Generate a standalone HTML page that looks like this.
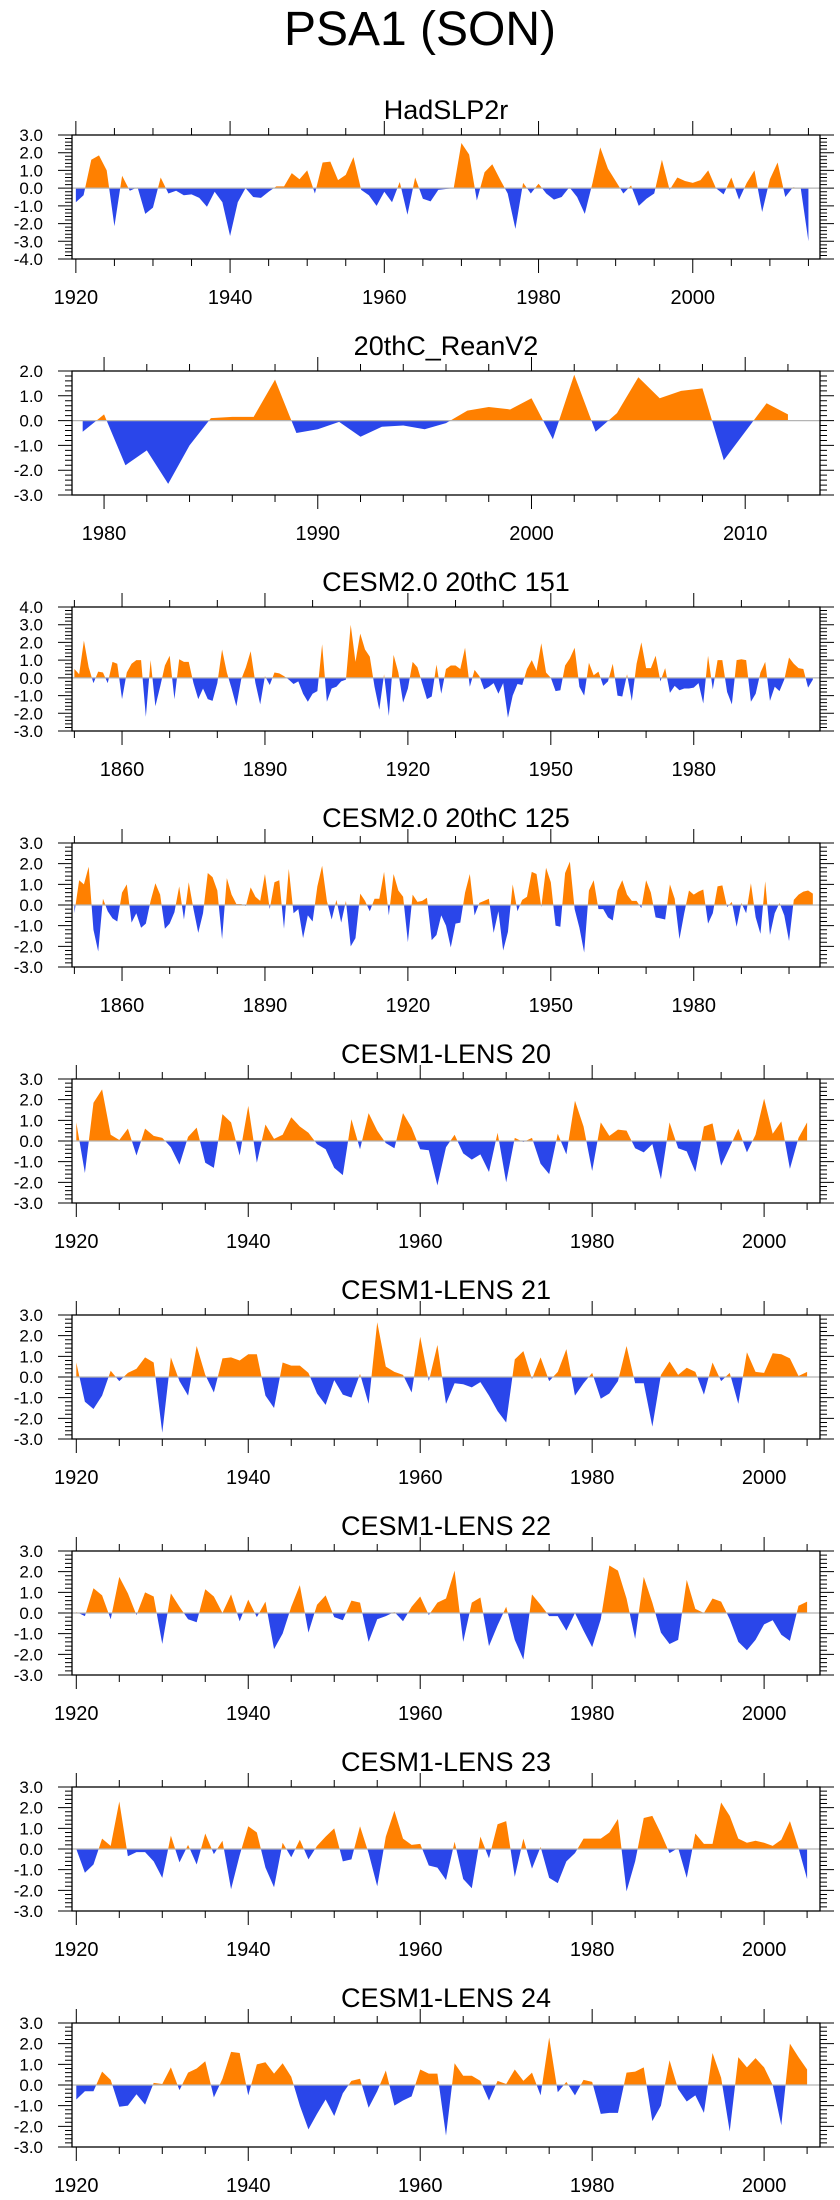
<!DOCTYPE html>
<html><head><meta charset="utf-8">
<style>
html,body{margin:0;padding:0;background:#fff;}
svg{display:block;font-family:"Liberation Sans",Arial,sans-serif;}
</style></head>
<body>
<svg id="chart" width="840" height="2200" viewBox="0 0 840 2200" xmlns="http://www.w3.org/2000/svg">
<text x="420" y="45" font-size="48" text-anchor="middle" fill="#000">PSA1 (SON)</text>
</svg>
<script>
const titles = ["HadSLP2r","20thC_ReanV2","CESM2.0 20thC 151","CESM2.0 20thC 125","CESM1-LENS 20","CESM1-LENS 21","CESM1-LENS 22","CESM1-LENS 23","CESM1-LENS 24"];
const startYears = [1920,1979,1850,1850,1920,1920,1920,1920,1920];
const yMins = [-4,-3,-3,-3,-3,-3,-3,-3,-3];
const yMaxs = [3,2,4,3,3,3,3,3,3];
const majorSteps = [20,10,30,30,20,20,20,20,20];
const minorSteps = [5,2,10,10,5,5,5,5,5];
const majorStarts = [1920,1980,1860,1860,1920,1920,1920,1920,1920];

const s1 = [-0.8,-0.4,1.6,1.85,1.0,-2.15,0.7,-0.15,0.05,-1.45,-1.1,0.6,-0.3,-0.15,-0.4,-0.35,-0.55,-1.05,-0.2,-0.8,-2.7,-0.8,0.0,-0.5,-0.55,-0.2,0.1,0.1,0.85,0.5,1.0,-0.3,1.45,1.5,0.45,0.75,1.75,-0.1,-0.4,-1.0,-0.2,-0.8,0.35,-1.5,0.6,-0.6,-0.75,-0.1,-0.05,0.0,2.55,1.9,-0.7,0.9,1.35,0.5,-0.3,-2.3,0.3,-0.3,0.25,-0.3,-0.65,-0.5,0.05,-0.5,-1.45,0.3,2.3,1.1,0.4,-0.3,0.15,-1.0,-0.6,-0.3,1.6,-0.1,0.6,0.4,0.3,0.45,1.0,0.0,-0.35,0.6,-0.65,0.3,1.0,-1.35,0.5,1.45,-0.5,0.05,0.0,-3.0];
const s2 = [-0.45,0.25,-1.8,-1.2,-2.55,-1.0,0.1,0.15,0.15,1.65,-0.5,-0.35,-0.05,-0.65,-0.25,-0.2,-0.35,-0.1,0.4,0.55,0.45,0.9,-0.75,1.85,-0.45,0.3,1.75,0.9,1.2,1.3,-1.6,-0.45,0.7,0.25];
const s3 = [0.5,0.2,2.1,0.6,-0.3,0.35,0.3,-0.3,0.9,0.8,-1.2,0.3,0.8,1.0,1.0,-2.2,1.0,-1.6,-0.5,0.7,1.25,-1.2,1.05,0.9,0.9,-0.3,-1.2,-0.6,-1.2,-1.3,-0.3,1.6,0.3,-0.6,-1.6,-0.1,0.6,1.5,-0.3,-1.5,0.1,-0.4,0.3,0.25,0.1,-0.1,-0.35,-0.2,-0.9,-1.35,-0.9,-0.75,1.9,-1.35,-0.6,-0.5,-0.2,-0.1,3.0,0.9,2.5,1.6,1.2,-0.5,-1.8,0.2,-2.15,1.3,0.3,-1.4,-0.6,0.9,0.6,-0.3,-1.2,-1.05,0.75,-0.9,0.5,0.7,0.7,0.5,1.7,-0.5,0.45,0.1,-0.65,-0.5,-0.3,-0.9,-0.3,-2.25,-1.0,-0.35,-0.4,0.5,1.0,0.4,1.95,0.3,0.0,-0.75,-0.7,0.7,1.1,1.7,-0.5,-1.0,0.85,0.15,0.35,-0.45,-0.2,0.8,-1.0,-1.05,0.2,-1.3,0.8,2.0,0.55,0.55,1.25,-0.2,0.55,-0.85,-0.45,-0.7,-0.6,-0.6,-0.55,-0.3,-1.45,1.25,-0.65,1.0,1.0,-0.8,-1.5,1.0,1.05,1.0,-1.35,-0.9,0.3,0.9,-1.3,-0.5,-0.75,-0.1,1.15,0.8,0.55,0.5,-0.55,-0.1];
const s4 = [-0.4,1.2,1.0,1.85,-1.2,-2.25,0.3,-0.3,-0.65,-0.8,0.6,1.0,-0.85,-0.4,-1.1,-0.9,0.2,1.05,0.5,-1.15,-0.9,-0.35,0.9,-0.7,1.1,-0.2,-1.35,-0.4,1.55,1.35,0.7,-1.65,1.3,0.5,0.05,0.05,-0.05,0.85,0.4,0.2,1.5,-0.2,1.1,1.2,-1.15,1.75,-0.4,-0.2,-1.6,-0.5,-0.8,0.9,1.9,0.2,-0.7,0.25,-0.85,0.2,-2.0,-1.6,0.55,0.2,-0.3,0.3,0.3,1.6,-0.5,1.5,0.7,0.4,-1.8,0.5,0.15,0.2,0.35,-1.7,-1.45,-0.5,-1.0,-2.05,-0.9,-0.85,0.6,1.5,-0.5,0.1,0.2,0.3,-1.35,-0.3,-2.2,-1.3,1.0,-0.3,0.25,0.4,1.6,1.5,-0.1,1.8,1.1,-1.0,-1.05,1.55,2.1,-0.2,-1.1,-2.3,0.7,1.2,-0.2,-0.2,-0.6,-0.75,0.7,1.2,0.5,0.2,0.2,-0.15,1.2,0.6,-0.6,-0.65,-0.7,1.0,0.3,-1.65,-0.4,0.7,0.5,0.65,0.75,-0.9,-0.4,0.9,0.95,-0.1,0.15,-1.05,0.1,-0.4,1.05,-0.6,-1.4,1.15,-1.45,-0.4,0.1,-0.5,-1.75,0.25,0.5,0.65,0.7,0.55];
const s5 = [0.9,-1.55,1.85,2.5,0.3,0.05,0.6,-0.7,0.6,0.25,0.15,-0.3,-1.15,0.2,0.65,-1.05,-1.3,1.3,0.9,-0.7,1.7,-1.05,0.8,0.1,0.3,1.15,0.7,0.4,-0.15,-0.4,-1.3,-1.65,1.05,-0.4,1.35,0.5,-0.1,-0.35,1.35,0.65,-0.4,-0.45,-2.15,-0.3,0.3,-0.6,-0.9,-0.65,-1.5,0.4,-2.0,0.15,-0.05,0.15,-1.1,-1.6,0.35,-0.65,1.95,0.7,-1.45,0.9,0.25,0.55,0.5,-0.35,-0.55,-0.15,-1.85,0.9,-0.35,-0.5,-1.5,0.7,0.85,-1.2,-0.3,0.6,-0.55,0.3,2.05,0.35,0.95,-1.35,0.15,0.9];
const s6 = [0.7,-1.2,-1.55,-0.9,0.3,-0.2,0.2,0.4,0.95,0.7,-2.7,0.95,-0.2,-0.9,1.5,0.1,-0.75,0.9,0.95,0.8,1.1,1.1,-0.9,-1.5,0.7,0.55,0.55,0.2,-0.8,-1.35,-0.15,-0.85,-1.0,0.15,-1.3,2.65,0.5,0.25,0.1,-0.75,1.95,-0.2,1.55,-1.3,-0.3,-0.35,-0.5,-0.25,-0.9,-1.65,-2.2,0.85,1.25,-0.1,0.95,-0.2,0.25,1.35,-0.9,-0.3,0.2,-1.05,-0.8,-0.2,1.5,-0.3,-0.3,-2.4,0.1,0.75,0.1,0.45,0.25,-0.85,0.7,-0.2,0.2,-1.3,1.2,0.25,0.2,1.15,1.1,0.9,0.05,0.25];
const s7 = [0.05,-0.15,1.2,0.85,-0.3,1.75,0.95,-0.1,1.0,0.8,-1.5,0.95,0.3,-0.3,-0.45,1.15,0.8,0.0,0.9,-0.4,0.65,-0.2,0.55,-1.75,-1.0,0.3,1.35,-0.95,0.4,0.85,-0.2,-0.35,0.6,0.5,-1.4,-0.3,-0.15,0.05,-0.4,0.3,0.8,-0.1,0.5,0.7,2.05,-1.4,0.5,0.75,-1.6,-0.6,0.3,-1.3,-2.25,0.9,0.4,-0.15,-0.15,-0.85,0.0,-0.85,-1.65,-0.3,2.3,2.05,0.7,-1.25,1.75,0.5,-0.95,-1.5,-1.3,1.6,0.2,0.0,0.7,0.55,-0.3,-1.4,-1.8,-1.3,-0.55,-0.35,-1.05,-1.35,0.35,0.55];
const s8 = [0.0,-1.15,-0.75,0.5,0.15,2.3,-0.35,-0.15,-0.15,-0.6,-1.4,0.65,-0.65,0.2,-0.75,0.75,-0.25,0.4,-1.95,-0.3,1.1,0.8,-0.9,-1.85,0.3,-0.4,0.45,-0.5,0.15,0.6,1.0,-0.6,-0.5,1.1,-0.2,-1.8,0.6,1.85,0.5,0.2,0.25,-0.8,-0.9,-1.5,0.35,-1.45,-1.9,0.6,-0.45,1.2,1.35,-1.35,0.5,-0.95,0.1,-1.4,-1.65,-0.6,-0.2,0.5,0.5,0.5,0.8,1.45,-2.05,-0.6,1.5,1.6,0.75,-0.2,0.05,-1.4,0.75,0.25,0.25,2.25,1.6,0.5,0.3,0.4,0.3,0.15,0.45,1.35,0.05,-1.45];
const s9 = [-0.7,-0.3,-0.3,0.65,0.25,-1.05,-1.0,-0.45,-0.95,0.1,0.05,0.85,-0.25,0.6,0.8,1.15,-0.6,0.3,1.6,1.55,-0.5,1.0,1.1,0.55,1.05,0.4,-1.0,-2.15,-1.4,-0.7,-1.5,-0.4,0.2,0.3,-1.1,-0.3,0.7,-1.0,-0.75,-0.55,0.75,0.55,0.55,-2.45,1.05,0.45,0.45,0.2,-0.75,0.2,0.05,0.75,0.2,0.6,-0.5,2.3,-0.35,0.15,-0.5,0.25,0.15,-1.4,-1.35,-1.35,0.6,0.65,0.85,-1.75,-1.0,1.2,-0.2,-0.8,-0.5,-1.35,1.55,0.35,-2.25,1.35,0.85,1.3,0.85,0.0,-1.95,2.0,1.35,0.75];
const series = [s1,s2,s3,s4,s5,s6,s7,s8,s9];

const NS = "http://www.w3.org/2000/svg";
const svg = document.getElementById("chart");
const BOX_L = 72, BOX_R = 820, BOX_H = 124, TOP0 = 135, PITCH = 236;
const POS = "#ff8000", NEG = "#2a46ea";

function mk(tag, attrs, parent) {
  const el = document.createElementNS(NS, tag);
  for (const k in attrs) el.setAttribute(k, attrs[k]);
  parent.appendChild(el);
  return el;
}

for (let p = 0; p < 9; p++) {
  const data = series[p];
  const y0yr = startYears[p];
  const lastYr = y0yr + data.length - 1;
  const dMin = y0yr - 0.5, dMax = lastYr + 1.5;
  const top = TOP0 + PITCH * p, bot = top + BOX_H;
  const xs = yr => BOX_L + (yr - dMin) / (dMax - dMin) * (BOX_R - BOX_L);
  const ys = v => bot - (v - yMins[p]) / (yMaxs[p] - yMins[p]) * BOX_H;

  const g = mk("g", {}, svg);
  
  

  const t = mk("text", {x: 446, y: top - 16, "font-size": 27, "text-anchor": "middle", fill: "#000"}, g);
  t.textContent = titles[p];
  
  

  const pts = [];
  for (let i = 0; i < data.length; i++) {
    const yr = y0yr + i, v = data[i];
    if (i > 0) {
      const pv = data[i - 1];
      if ((pv > 0 && v < 0) || (pv < 0 && v > 0)) {
        const f = pv / (pv - v);
        pts.push([yr - 1 + f, 0]);
      }
    }
    pts.push([yr, v]);
  }
  const z = ys(0);
  function areaPath(sign) {
    let d = "M" + xs(pts[0][0]).toFixed(2) + "," + z.toFixed(2);
    for (const [yr, v] of pts) {
      const vv = sign > 0 ? Math.max(v, 0) : Math.min(v, 0);
      d += "L" + xs(yr).toFixed(2) + "," + ys(vv).toFixed(2);
    }
    d += "L" + xs(pts[pts.length - 1][0]).toFixed(2) + "," + z.toFixed(2) + "Z";
    return d;
  }
  const ap = mk("path", {d: areaPath(1), fill: POS, stroke: "none"}, g);
  
  
  const an = mk("path", {d: areaPath(-1), fill: NEG, stroke: "none"}, g);
  
  

  const zl = mk("line", {x1: BOX_L, x2: BOX_R, y1: z, y2: z, stroke: "#b4b4b4", "stroke-width": 1.2}, g);
  
  

  const fr = mk("rect", {x: BOX_L, y: top, width: BOX_R - BOX_L, height: BOX_H, fill: "none", stroke: "#000", "stroke-width": 1.3}, g);
  
  

  let tk = "";
  for (let yr = Math.ceil(dMin); yr <= dMax; yr++) {
    if ((yr - majorStarts[p]) % minorSteps[p] !== 0) continue;
    const major = (yr - majorStarts[p]) % majorSteps[p] === 0;
    const L = major ? 14 : 7, x = xs(yr).toFixed(2);
    tk += "M" + x + "," + top + "V" + (top - L) + "M" + x + "," + bot + "V" + (bot + L);
    if (major) {
      const lb = mk("text", {x: x, y: bot + 45, "font-size": 20, "text-anchor": "middle", fill: "#000"}, g);
      lb.textContent = yr;
      
      
    }
  }
  for (let k = Math.round(yMins[p] * 5); k <= Math.round(yMaxs[p] * 5); k++) {
    const v = k / 5, y = ys(v).toFixed(2);
    const major = k % 5 === 0;
    const L = major ? 14 : 7;
    tk += "M" + BOX_L + "," + y + "H" + (BOX_L - L) + "M" + BOX_R + "," + y + "H" + (BOX_R + L);
    if (major) {
      const lb = mk("text", {x: 43, y: (+y + 6).toFixed(2), "font-size": 17, "text-anchor": "end", fill: "#000"}, g);
      lb.textContent = v.toFixed(1);
      
      
    }
  }
  const ticks = mk("path", {d: tk, stroke: "#000", "stroke-width": 1, fill: "none"}, g);
  
  
}
</script>
</body></html>
